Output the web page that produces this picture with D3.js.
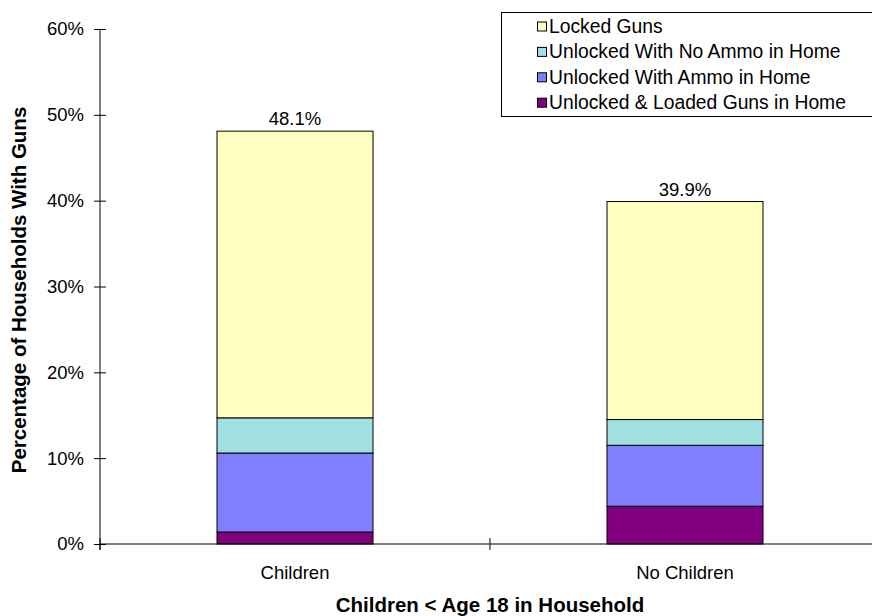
<!DOCTYPE html>
<html>
<head>
<meta charset="utf-8">
<script src="https://cdn.jsdelivr.net/npm/d3@7"></script>
<style>
  html, body { margin: 0; padding: 0; background: #fff; }
  svg { display: block; font-family: "Liberation Sans", Arial, sans-serif; }
</style>
</head>
<body>
<svg id="chart" width="872" height="616"></svg>
<script>
// ---- data ----
const categories = ["Children", "No Children"];
const seriesNames = ["Unlocked & Loaded Guns in Home", "Unlocked With Ammo in Home", "Unlocked With No Ammo in Home", "Locked Guns"];
const loadedValues   = [0.014, 0.044];
const ammoValues     = [0.092, 0.071];
const noAmmoValues   = [0.041, 0.030];
const lockedValues   = [0.334, 0.254];
const totalLabels    = ["48.1%", "39.9%"];
const yTicks = [0, 0.1, 0.2, 0.3, 0.4, 0.5, 0.6];
const colors = ["#800080", "#8080FF", "#A0E0E0", "#FFFFC0"];
const legendOrder = ["Locked Guns", "Unlocked With No Ammo in Home", "Unlocked With Ammo in Home", "Unlocked & Loaded Guns in Home"];

const rows = categories.map((c, i) => ({
  cat: c,
  [seriesNames[0]]: loadedValues[i],
  [seriesNames[1]]: ammoValues[i],
  [seriesNames[2]]: noAmmoValues[i],
  [seriesNames[3]]: lockedValues[i],
  label: totalLabels[i]
}));

const svg = d3.select("#chart");
const pLeft = 100, pRight = 880, pTop = 29, pBottom = 544;

const x = d3.scaleBand().domain(categories).range([pLeft, pRight]).paddingInner(0.6).paddingOuter(0.3);
const y = d3.scaleLinear().domain([0, 0.6]).range([pBottom, pTop]);
const color = d3.scaleOrdinal().domain(seriesNames).range(colors);

const stacked = d3.stack().keys(seriesNames)(rows);

// bars
svg.append("g").selectAll("g").data(stacked).join("g")
  .attr("fill", d => color(d.key))
  .selectAll("rect").data(d => d).join("rect")
  .attr("x", d => x(d.data.cat))
  .attr("width", x.bandwidth())
  .attr("y", d => y(d[1]))
  .attr("height", d => y(d[0]) - y(d[1]))
  .attr("stroke", "#000")
  .attr("stroke-width", 1);

// total labels
svg.append("g").selectAll("text").data(stacked[stacked.length - 1]).join("text")
  .attr("x", d => x(d.data.cat) + x.bandwidth() / 2)
  .attr("y", d => y(d[1]) - 6)
  .attr("text-anchor", "middle")
  .attr("font-size", "18.5px")
  .attr("fill", "#000")
  .text(d => d.data.label);

// y axis
const yAxis = svg.append("g").attr("transform", `translate(${pLeft},0)`)
  .call(d3.axisLeft(y).tickValues(yTicks).tickFormat(d3.format(".0%")).tickSize(6).tickPadding(10).tickSizeOuter(0));
yAxis.select(".domain").attr("d", `M0,${pTop}V${pBottom + 6}`).attr("stroke", "#000");
yAxis.selectAll(".tick line").attr("x1", 6).attr("x2", -6).attr("stroke", "#000");
yAxis.selectAll(".tick text").attr("font-size", "18.5px").attr("font-family", "Liberation Sans, Arial, sans-serif").attr("fill", "#000");

// x axis
const bounds = [pLeft, pLeft + x.step(), pRight];
const xg = svg.append("g");
xg.append("line").attr("x1", pLeft).attr("x2", pRight).attr("y1", pBottom).attr("y2", pBottom).attr("stroke", "#000");
xg.selectAll("line.t").data(bounds).join("line").attr("class", "t")
  .attr("x1", d => d).attr("x2", d => d).attr("y1", pBottom - 6).attr("y2", pBottom + 6).attr("stroke", "#000");
xg.selectAll("text").data(categories).join("text")
  .attr("x", d => x(d) + x.bandwidth() / 2)
  .attr("y", 579)
  .attr("text-anchor", "middle")
  .attr("font-size", "18.5px")
  .text(d => d);

// axis titles
svg.append("text")
  .attr("x", pLeft + x.step())
  .attr("y", 612)
  .attr("text-anchor", "middle")
  .attr("font-size", "20.5px")
  .attr("font-weight", "bold")
  .text("Children < Age 18 in Household");

svg.append("text")
  .attr("transform", "translate(26,290) rotate(-90)")
  .attr("text-anchor", "middle")
  .attr("font-size", "20.5px")
  .attr("font-weight", "bold")
  .text("Percentage of Households With Guns");

// legend
const lg = svg.append("g");
lg.append("rect").attr("x", 501.5).attr("y", 12.5).attr("width", 380).attr("height", 104)
  .attr("fill", "#fff").attr("stroke", "#000").attr("stroke-width", 1);
const items = lg.selectAll("g.item").data(legendOrder).join("g").attr("class", "item")
  .attr("transform", (d, i) => `translate(0,${26.5 + i * 25.4})`);
items.append("rect").attr("x", 537.5).attr("y", -4.5).attr("width", 9).attr("height", 9)
  .attr("fill", d => color(d)).attr("stroke", "#000").attr("stroke-width", 1);
items.append("text").attr("x", 549).attr("y", 6.5).attr("font-size", "19.3px").text(d => d);
</script>
</body>
</html>
